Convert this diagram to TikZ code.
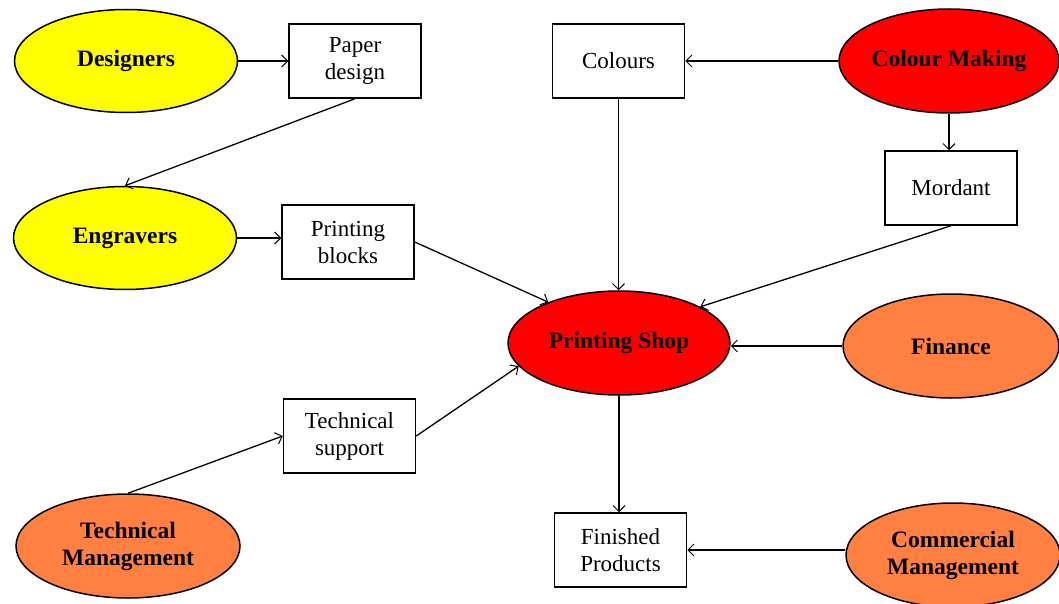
\documentclass[tikz,border=0pt]{standalone}
\usepackage{fontspec}
\setmainfont{Liberation Serif}
\usetikzlibrary{shapes.geometric,arrows.meta}
\definecolor{cyel}{RGB}{255,255,0}
\definecolor{cred}{RGB}{255,0,0}
\definecolor{corg}{RGB}{255,128,64}
\begin{document}
\begin{tikzpicture}[x=1pt,y=-1pt,
  oval/.style={ellipse,draw=black,line width=1.5pt,inner sep=0pt,align=center,
     font=\fontsize{23.5}{27}\selectfont\bfseries},
  rbox/.style={rectangle,draw=black,line width=1.5pt,minimum width=132pt,minimum height=74pt,
     inner sep=0pt,align=center,font=\fontsize{23}{27}\selectfont},
  conn/.style={line width=1.3pt,-{Straight Barb[length=6pt,width=12pt,line width=1pt]}}]
\useasboundingbox (0,0) rectangle (1059,604);
% ellipses
\node[oval,fill=cyel,minimum width=223pt,minimum height=103pt] (des) at (126,61) {Designers};
\node[oval,fill=cyel,minimum width=223pt,minimum height=103pt] (eng) at (125,238) {Engravers};
\node[oval,fill=corg,minimum width=224pt,minimum height=104pt] (tm) at (128,546) {Technical\\Management};
\node[oval,fill=cred,minimum width=222pt,minimum height=104pt] (ps) at (619,343) {Printing Shop};
\node[oval,fill=cred,minimum width=220pt,minimum height=104pt] (cm) at (949,61) {Colour Making};
\node[oval,fill=corg,minimum width=216pt,minimum height=104pt] (fin) at (951,346) {Finance};
\node[oval,fill=corg,minimum width=214pt,minimum height=104pt] (com) at (953,555) {Commercial\\Management};
% boxes
\node[rbox] (pd) at (355,61) {Paper\\design};
\node[rbox] (pb) at (348,242) {Printing\\blocks};
\node[rbox] (col) at (618.5,61) {Colours};
\node[rbox] (mor) at (951,188) {Mordant};
\node[rbox] (fp) at (620.5,550) {Finished\\Products};
\node[rbox] (ts) at (349.5,436) {Technical\\support};
% connectors
\draw[conn] (des.east) -- (pd.west);
\draw[conn] (pd.south) -- (eng.north);
\draw[conn] (eng.east) -- (eng.east -| pb.west);
\draw[conn] (pb.east) -- (ps.150.6);
\draw[conn] (tm.north) -- (ts.west);
\draw[conn] (ts.east) -- (ps.193.3);
\draw[conn] (cm.west) -- (cm.west -| col.east);
\draw[conn] (col.south) -- (col.south |- ps.north);
\draw[conn] (cm.south) -- (cm.south |- mor.north);
\draw[conn] (mor.south) -- (ps.24.6);
\draw[conn] (fin.west) -- (fin.west -| ps.east);
\draw[conn] (ps.south) -- (ps.south |- fp.north);
\draw[conn] (com.west |- fp.east) -- (fp.east);
\end{tikzpicture}
\end{document}
